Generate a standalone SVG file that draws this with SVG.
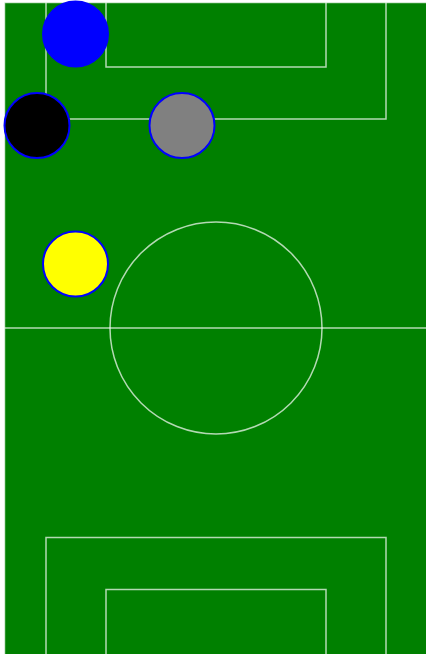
<svg xmlns="http://www.w3.org/2000/svg" width="426" height="654" viewBox="0 0 426 654">
<style>
.ln{fill:none;stroke:#fff;stroke-opacity:0.7;stroke-width:1.5}
.grass{fill:#008000;stroke:#fff;stroke-opacity:0.7;stroke-width:1.5}
.pl{stroke:#0000ff;stroke-width:2}
</style>
<rect width="426" height="654" fill="#fff"/>
<g id="field">
<rect x="4.5" y="2.5" width="426" height="660" class="grass"/>
<line x1="4.5" y1="328" x2="430" y2="328" class="ln"/>
<circle cx="216" cy="328" r="106" class="ln"/>
<polyline points="46,2.5 46,119 386,119 386,2.5" class="ln"/>
<polyline points="106,2.5 106,67 326,67 326,2.5" class="ln"/>
<polyline points="46,660 46,537.5 386,537.5 386,660" class="ln"/>
<polyline points="106,660 106,589.5 326,589.5 326,660" class="ln"/>
</g>
<g id="player-blue"><circle cx="75.5" cy="34" r="32.5" fill="#0000ff" class="pl"/></g>
<g id="player-black"><circle cx="37" cy="125.5" r="32.5" fill="#000" class="pl"/></g>
<g id="player-gray"><circle cx="182" cy="125.5" r="32.5" fill="#808080" class="pl"/></g>
<g id="player-yellow"><circle cx="75.5" cy="264" r="32.5" fill="#ffff00" class="pl"/></g>
</svg>
